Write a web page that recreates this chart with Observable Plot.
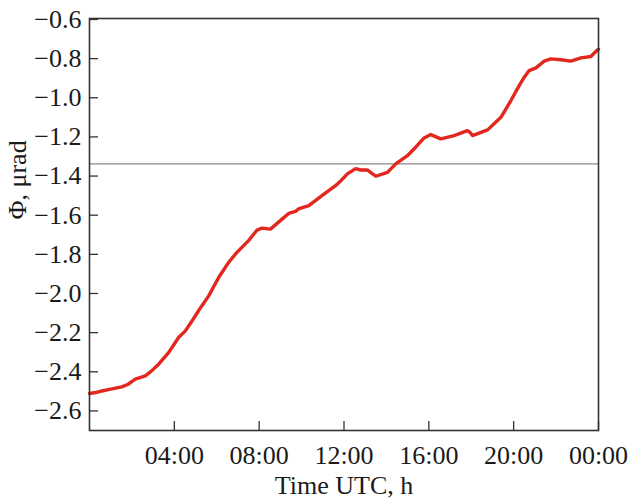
<!DOCTYPE html>
<html>
<head>
<meta charset="utf-8">
<script src="https://cdn.jsdelivr.net/npm/d3@7"></script>
<script src="https://cdn.jsdelivr.net/npm/@observablehq/plot@0.6"></script>
<style>
  html, body { margin: 0; padding: 0; background: #fff; }
</style>
</head>
<body>
<div id="chart"></div>
<script>
// Time (hours UTC) and tilt Φ (μrad)
const hours = [0, 0.3, 0.58, 1.0, 1.52, 1.8, 2.16, 2.63, 2.9, 3.26, 3.73, 4.2, 4.52, 4.8, 5.14, 5.62, 6.09, 6.56, 6.95, 7.5, 7.9, 8.13, 8.53, 9.08, 9.39, 9.71, 9.86, 10.34, 10.96, 11.6, 11.85, 12.16, 12.55, 12.79, 13.1, 13.3, 13.5, 14.05, 14.44, 14.99, 15.4, 15.78, 16.09, 16.56, 17.19, 17.82, 17.95, 18.06, 18.77, 19.4, 19.87, 20.26, 20.5, 20.73, 21.05, 21.44, 21.76, 22.23, 22.7, 23.17, 23.64, 23.96, 24];
const phi = [-2.511, -2.506, -2.498, -2.489, -2.477, -2.465, -2.438, -2.421, -2.398, -2.361, -2.302, -2.225, -2.191, -2.146, -2.088, -2.012, -1.918, -1.841, -1.790, -1.730, -1.676, -1.666, -1.671, -1.620, -1.591, -1.581, -1.568, -1.551, -1.500, -1.449, -1.424, -1.389, -1.362, -1.369, -1.369, -1.385, -1.401, -1.381, -1.338, -1.296, -1.250, -1.205, -1.188, -1.210, -1.193, -1.168, -1.178, -1.193, -1.164, -1.100, -1.014, -0.938, -0.895, -0.861, -0.847, -0.813, -0.801, -0.806, -0.813, -0.796, -0.789, -0.755, -0.752];
const refLevel = [-1.338];

const yTicks = [-2.6, -2.4, -2.2, -2.0, -1.8, -1.6, -1.4, -1.2, -1.0, -0.8, -0.6];
const xTicks = [4, 8, 12, 16, 20, 24];
const xTickLabels = ["04:00", "08:00", "12:00", "16:00", "20:00", "00:00"];
const xLabel = "Time UTC, h";
const yLabel = "Φ, μrad";

const data = hours.map((h, i) => ({h, v: phi[i]}));
const fmtY = d3.format(".1f");
const fmtX = d => xTickLabels[xTicks.indexOf(d)];
const font = "Liberation Serif, Times New Roman, serif";

const chart = Plot.plot({
  width: 629,
  height: 503,
  marginLeft: 89,
  marginRight: 31,
  marginTop: 18,
  marginBottom: 73,
  style: {fontFamily: font, fontSize: "26px", background: "#fff", color: "#1a1a1a"},
  x: {domain: [0, 24], axis: null},
  y: {domain: [-2.7, -0.595], axis: null},
  marks: [
    Plot.ruleY(refLevel, {stroke: "#8a8a8a", strokeWidth: 1.3}),
    Plot.line(data, {x: "h", y: "v", stroke: "#e2271f", strokeWidth: 3.4, curve: "linear"}),
    Plot.axisY(yTicks, {anchor: "left", label: null, tickSize: -9, tickFormat: () => "", stroke: "#333", strokeWidth: 1.3}),
    Plot.axisY(yTicks, {anchor: "left", label: null, tickSize: 0, tickPadding: 8, tickFormat: fmtY, fontSize: 26, fill: "#1a1a1a"}),
    Plot.axisX(xTicks, {anchor: "bottom", label: null, tickSize: -9, tickFormat: () => "", stroke: "#333", strokeWidth: 1.3}),
    Plot.axisX(xTicks, {anchor: "bottom", label: null, tickSize: 0, tickPadding: 15, tickFormat: fmtX, fontSize: 26, fill: "#1a1a1a"}),
    Plot.frame({stroke: "#333", strokeWidth: 1.6}),
    Plot.text([xLabel], {frameAnchor: "bottom", dy: 63, fontSize: 26, fill: "#1a1a1a", text: d => d}),
    Plot.text([yLabel], {frameAnchor: "left", dx: -72, dy: -5, rotate: -90, fontSize: 26, fill: "#1a1a1a", text: d => d})
  ]
});
document.getElementById("chart").appendChild(chart);
</script>
</body>
</html>
